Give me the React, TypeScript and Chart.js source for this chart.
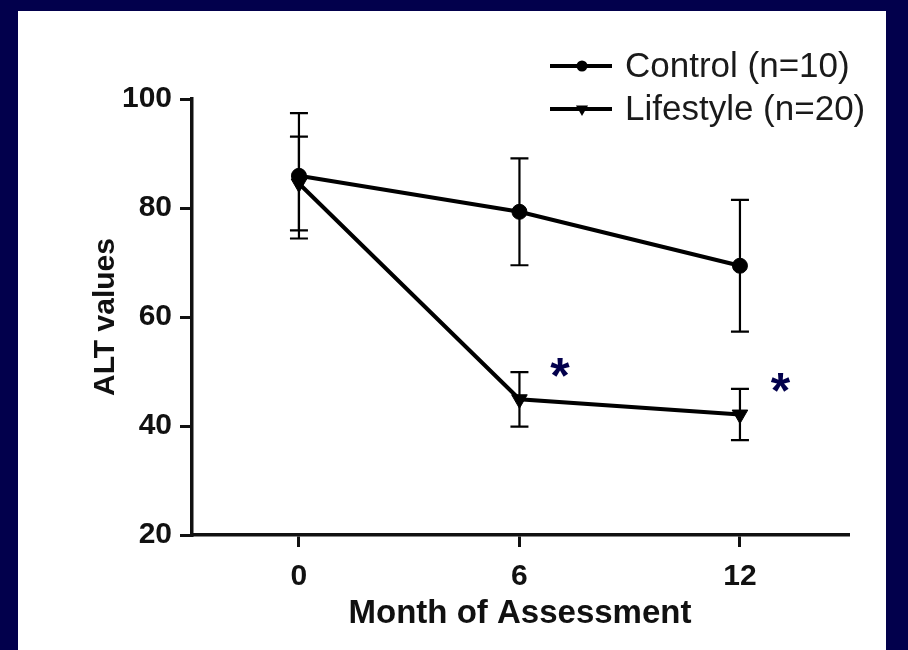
import React, { useEffect, useRef } from "react";
import { Chart, registerables } from "chart.js";

Chart.register(...registerables);

const months = [0, 6, 12];
const controlMean = [85.9, 79.3, 69.4];
const controlSEM = [11.5, 9.8, 12.1];
const lifestyleMean = [84.5, 44.9, 42.1];
const lifestyleSEM = [8.6, 5.0, 4.7];
const seriesLabels = ["Control (n=10)", "Lifestyle (n=20)"];
const yTicks = [20, 40, 60, 80, 100];
const starMonths = [7.1, 13.1];
const starValues = [51.2, 48.6];

const FONT = "'Liberation Sans', Arial, Helvetica, sans-serif";
const NAVY = "#02004c";

function drawMarker(ctx: CanvasRenderingContext2D, style: string, x: number, y: number, r: number) {
  ctx.beginPath();
  if (style === "circle") {
    ctx.arc(x, y, r, 0, Math.PI * 2);
  } else {
    const h = r * 0.5;
    ctx.moveTo(x - r * 0.866, y - h);
    ctx.lineTo(x + r * 0.866, y - h);
    ctx.lineTo(x, y + r);
    ctx.closePath();
  }
  ctx.fillStyle = "#000";
  ctx.fill();
}

const errorBarPlugin = {
  id: "errorBars",
  beforeDatasetsDraw(chart: any) {
    const { ctx, scales } = chart;
    const xs = scales.x;
    const ys = scales.y;
    const groups = [
      [controlMean, controlSEM],
      [lifestyleMean, lifestyleSEM],
    ];
    ctx.save();
    ctx.strokeStyle = "#000";
    ctx.lineWidth = 2.2;
    groups.forEach(([m, s]) => {
      months.forEach((mo, i) => {
        const px = xs.getPixelForValue(mo);
        const top = ys.getPixelForValue(m[i] + s[i]);
        const bot = ys.getPixelForValue(m[i] - s[i]);
        ctx.beginPath();
        ctx.moveTo(px, top);
        ctx.lineTo(px, bot);
        ctx.moveTo(px - 9, top);
        ctx.lineTo(px + 9, top);
        ctx.moveTo(px - 9, bot);
        ctx.lineTo(px + 9, bot);
        ctx.stroke();
      });
    });
    ctx.restore();
  },
  afterDraw(chart: any) {
    const { ctx, scales, chartArea } = chart;
    const xs = scales.x;
    const ys = scales.y;
    ctx.save();
    // significance stars
    const size = 50;
    ctx.font = `bold ${size}px ${FONT}`;
    ctx.fillStyle = NAVY;
    ctx.textAlign = "center";
    ctx.textBaseline = "alphabetic";
    starMonths.forEach((mo, i) => {
      const px = xs.getPixelForValue(mo);
      const py = ys.getPixelForValue(starValues[i]);
      ctx.fillText("*", px, py + size * 0.57);
    });
    // legend
    const styles = ["circle", "triangle"];
    const radii = [5.5, 7];
    const lx0 = chartArea.right - 298;
    const rowY = [chartArea.top - 33, chartArea.top + 10];
    ctx.font = `35px ${FONT}`;
    ctx.textAlign = "left";
    ctx.textBaseline = "middle";
    seriesLabels.forEach((lab, i) => {
      const y = rowY[i];
      ctx.strokeStyle = "#000";
      ctx.lineWidth = 4;
      ctx.beginPath();
      ctx.moveTo(lx0, y);
      ctx.lineTo(lx0 + 62, y);
      ctx.stroke();
      drawMarker(ctx, styles[i], lx0 + 32, y, radii[i]);
      ctx.fillStyle = "#1a1a1a";
      ctx.fillText(lab, lx0 + 75, y + 1);
    });
    ctx.restore();
  },
};

export default function App() {
  const ref = useRef<HTMLCanvasElement | null>(null);
  useEffect(() => {
    if (!ref.current) return;
    const chart = new Chart(ref.current, {
      type: "line",
      data: {
        datasets: [
          {
            label: seriesLabels[0],
            data: months.map((m, i) => ({ x: m, y: controlMean[i] })),
            borderColor: "#000",
            backgroundColor: "#000",
            borderWidth: 4,
            pointStyle: "circle",
            pointRadius: 7.5,
            pointBorderWidth: 1,
            pointBackgroundColor: "#000",
            pointBorderColor: "#000",
            clip: false as any,
          },
          {
            label: seriesLabels[1],
            data: months.map((m, i) => ({ x: m, y: lifestyleMean[i] })),
            borderColor: "#000",
            backgroundColor: "#000",
            borderWidth: 4,
            pointStyle: "triangle",
            pointRotation: 180,
            pointRadius: 9,
            pointBorderWidth: 1,
            pointBackgroundColor: "#000",
            pointBorderColor: "#000",
            clip: false as any,
          },
        ],
      },
      options: {
        responsive: false,
        animation: false,
        devicePixelRatio: 1,
        layout: { padding: { top: 88, right: 38, left: 0, bottom: 0 } },
        plugins: { legend: { display: false }, tooltip: { enabled: false } },
        scales: {
          x: {
            type: "linear",
            min: -2.91,
            max: 14.94,
            afterBuildTicks: (s: any) => {
              s.ticks = months.map((v) => ({ value: v }));
            },
            afterFit: (s: any) => {
              s.height = 115;
            },
            ticks: {
              color: "#111",
              font: { family: FONT, size: 30, weight: "bold" },
              padding: 12,
              callback: (v: any) => String(v),
            },
            grid: {
              display: true,
              drawOnChartArea: false,
              drawTicks: true,
              tickLength: 12,
              lineWidth: 3,
              color: "#111",
            },
            border: { display: true, width: 3.5, color: "#111" },
            title: {
              display: true,
              text: "Month of Assessment",
              color: "#111",
              font: { family: FONT, size: 33, weight: "bold" },
              padding: { top: 0, bottom: 16 },
            },
          },
          y: {
            type: "linear",
            min: 20,
            max: 100,
            afterBuildTicks: (s: any) => {
              s.ticks = yTicks.map((v) => ({ value: v }));
            },
            afterFit: (s: any) => {
              s.width = 174;
            },
            ticks: {
              color: "#111",
              font: { family: FONT, size: 30, weight: "bold" },
              padding: 8,
            },
            grid: {
              display: true,
              drawOnChartArea: false,
              drawTicks: true,
              tickLength: 12,
              lineWidth: 3,
              color: "#111",
            },
            border: { display: true, width: 3.5, color: "#111" },
            title: {
              display: true,
              text: "ALT values",
              color: "#111",
              font: { family: FONT, size: 30, weight: "bold" },
              padding: { top: 70, bottom: 0 },
            },
          },
        },
      },
      plugins: [errorBarPlugin],
    } as any);
    return () => chart.destroy();
  }, []);

  return (
    <div style={{ position: "absolute", left: 0, top: 0, width: 908, height: 650, background: NAVY, overflow: "hidden" }}>
      <div style={{ position: "absolute", left: 18, top: 11, width: 868, height: 639, background: "#fff" }}>
        <canvas ref={ref} width={868} height={639} style={{ display: "block", width: 868, height: 639 }} />
      </div>
    </div>
  );
}
